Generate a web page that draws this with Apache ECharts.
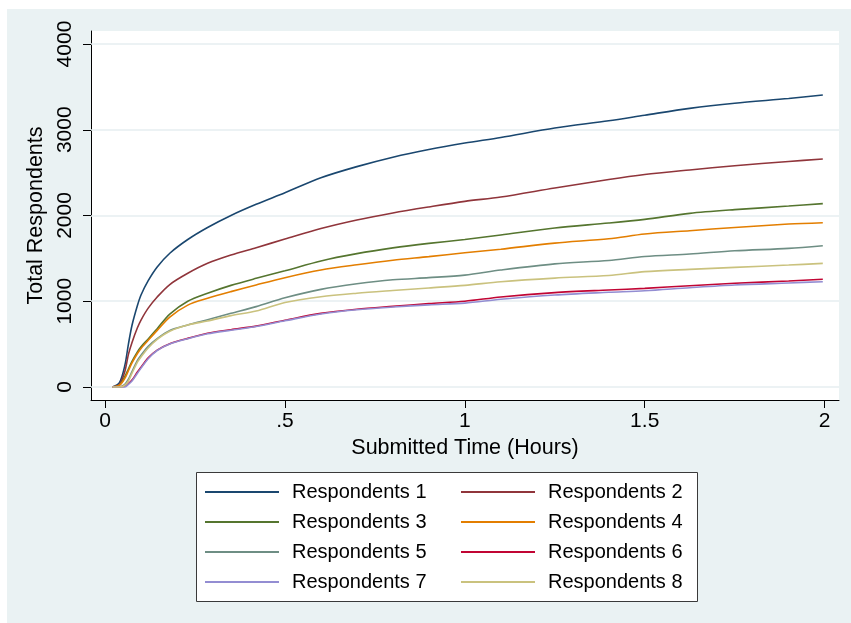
<!DOCTYPE html>
<html>
<head>
<meta charset="utf-8">
<script src="https://cdn.jsdelivr.net/npm/echarts@6/dist/echarts.min.js"></script>
<style>
  html, body { margin: 0; padding: 0; background: #ffffff; }
  #wrap { position: relative; width: 851px; height: 623px; background: #ffffff; }
  #bg { position: absolute; left: 7px; top: 9px; width: 844px; height: 614px; background: #eaf2f3; }
  #chart { position: absolute; left: 0; top: 0; width: 851px; height: 623px; }
</style>
</head>
<body>
<div id="wrap"><div id="bg"></div><div id="chart"></div></div>
<script>
// Cumulative respondent counts over submitted time (hours)
const hours = [0.02, 0.04, 0.055, 0.065, 0.075, 0.09, 0.1, 0.12, 0.145, 0.18, 0.23, 0.285, 0.35, 0.42,
               0.5, 0.6, 0.7, 0.8, 0.9, 1.0, 1.1, 1.25, 1.4, 1.5, 1.625, 1.75, 1.9, 1.995];

const resp1 = [0, 50, 250, 500, 720, 950, 1073, 1240, 1400, 1560, 1720, 1860, 2000, 2130,
               2265, 2440, 2570, 2680, 2770, 2845, 2910, 3020, 3105, 3170, 3250, 3310, 3365, 3405];
const resp2 = [0, 30, 180, 380, 520, 690, 781, 920, 1050, 1195, 1326, 1442, 1539, 1625,
               1725, 1848, 1948, 2030, 2100, 2165, 2215, 2320, 2420, 2478, 2531, 2580, 2630, 2659];
const resp3 = [0, 20, 120, 210, 300, 410, 470, 560, 680, 850, 1000, 1093, 1185, 1267,
               1355, 1470, 1555, 1622, 1675, 1720, 1773, 1855, 1912, 1955, 2025, 2068, 2110, 2138];
const resp4 = [0, 20, 100, 190, 280, 390, 450, 545, 660, 815, 955, 1034, 1112, 1190,
               1275, 1364, 1425, 1478, 1520, 1565, 1606, 1678, 1728, 1784, 1823, 1860, 1900, 1916];
const resp5 = [0, 0, 30, 90, 180, 310, 370, 475, 565, 660, 723, 785, 859, 937,
               1040, 1138, 1203, 1250, 1275, 1305, 1364, 1436, 1475, 1522, 1551, 1588, 1617, 1648];
const resp6 = [0, 0, 10, 40, 80, 175, 230, 340, 430, 505, 567, 626, 668, 710,
               778, 858, 906, 940, 972, 1000, 1050, 1100, 1131, 1150, 1181, 1209, 1236, 1256];
const resp7 = [0, 0, 0, 30, 70, 160, 220, 330, 425, 500, 562, 620, 662, 705,
               772, 852, 900, 932, 958, 978, 1023, 1073, 1104, 1122, 1158, 1190, 1213, 1228];
const resp8 = [0, 0, 20, 70, 160, 290, 350, 455, 555, 650, 723, 770, 832, 885,
               985, 1052, 1093, 1125, 1155, 1185, 1228, 1270, 1300, 1345, 1372, 1395, 1422, 1442];

const seriesNames = ['Respondents 1', 'Respondents 2', 'Respondents 3', 'Respondents 4',
                     'Respondents 5', 'Respondents 6', 'Respondents 7', 'Respondents 8'];
const seriesValues = [resp1, resp2, resp3, resp4, resp5, resp6, resp7, resp8];

const xTickValues = [0, 0.5, 1, 1.5, 2];
const xTickLabels = ['0', '.5', '1', '1.5', '2'];
const yTickValues = [0, 1000, 2000, 3000, 4000];
const yTickLabels = ['0', '1000', '2000', '3000', '4000'];

// Stata s2color palette
const colors = ['#1a476f', '#90353b', '#55752f', '#e37e00', '#6e8e84', '#c10534', '#938dd2', '#cac27e'];

const FONT = 'Liberation Sans, Arial, Helvetica, sans-serif';

const lineSeries = seriesNames.map((name, i) => ({
  name: name,
  type: 'line',
  z: 2,
  symbol: 'none',
  showSymbol: false,
  smooth: 0.3,
  animation: false,
  color: colors[i],
  lineStyle: { color: colors[i], width: 1.6 },
  data: hours.map((h, k) => [h, seriesValues[i][k]])
}));

// Horizontal grid lines at the labelled y ticks
const gridSeries = {
  name: 'grid',
  type: 'line',
  z: 1,
  data: [],
  silent: true,
  animation: false,
  markLine: {
    silent: true,
    z: 1,
    symbol: ['none', 'none'],
    label: { show: false },
    lineStyle: { color: '#e6eef0', width: 1.5, type: 'solid' },
    data: yTickValues.map(v => ({ yAxis: v }))
  }
};

const legendCommon = {
  orient: 'vertical',
  top: 482,
  padding: 0,
  itemGap: 10,
  itemWidth: 74,
  itemHeight: 2,
  icon: 'rect',
  selectedMode: false,
  z: 10,
  formatter: name => '{t|' + name + '}',
  textStyle: {
    color: '#000',
    fontFamily: FONT,
    fontSize: 20,
    rich: { t: { fontFamily: FONT, fontSize: 20, color: '#000', padding: [0, 0, 0, 8], lineHeight: 20 } }
  }
};

const chart = echarts.init(document.getElementById('chart'), null, { renderer: 'canvas' });
chart.setOption({
  backgroundColor: 'transparent',
  animation: false,
  grid: {
    left: 91, right: 12, top: 31, bottom: 223,
    show: true, backgroundColor: '#ffffff', borderWidth: 0,
    outerBoundsMode: 'none', containLabel: false
  },
  graphic: [{
    type: 'rect',
    z: 0,
    shape: { x: 196.5, y: 472.5, width: 501, height: 129 },
    style: { fill: '#ffffff', stroke: '#3a3a3a', lineWidth: 1 }
  }],
  legend: [
    Object.assign({}, legendCommon, { left: 205, data: [seriesNames[0], seriesNames[2], seriesNames[4], seriesNames[6]] }),
    Object.assign({}, legendCommon, { left: 461, data: [seriesNames[1], seriesNames[3], seriesNames[5], seriesNames[7]] })
  ],
  xAxis: {
    type: 'value',
    min: -0.039,
    max: 2.04,
    name: 'Submitted Time (Hours)',
    nameLocation: 'middle',
    nameGap: 35,
    nameTextStyle: { color: '#000', fontFamily: FONT, fontSize: 21.5 },
    axisLine: { show: true, onZero: false, lineStyle: { color: '#000', width: 1 } },
    axisTick: { show: true, inside: false, length: 8, customValues: xTickValues, lineStyle: { color: '#000', width: 1 } },
    axisLabel: {
      customValues: xTickValues,
      margin: 11,
      color: '#000',
      fontFamily: FONT,
      fontSize: 21,
      formatter: v => xTickLabels[xTickValues.indexOf(v)] ?? ''
    },
    splitLine: { show: false }
  },
  yAxis: {
    type: 'value',
    min: -152,
    max: 4152,
    name: 'Total Respondents',
    nameLocation: 'middle',
    nameGap: 42,
    nameTextStyle: { color: '#000', fontFamily: FONT, fontSize: 21.5 },
    axisLine: { show: true, onZero: false, lineStyle: { color: '#000', width: 1 } },
    axisTick: { show: true, inside: false, length: 8, customValues: yTickValues, lineStyle: { color: '#000', width: 1 } },
    axisLabel: {
      customValues: yTickValues,
      rotate: 90,
      margin: 15,
      color: '#000',
      fontFamily: FONT,
      fontSize: 21,
      formatter: v => yTickLabels[yTickValues.indexOf(v)] ?? ''
    },
    splitLine: { show: false }
  },
  series: [gridSeries].concat(lineSeries)
});
</script>
</body>
</html>
